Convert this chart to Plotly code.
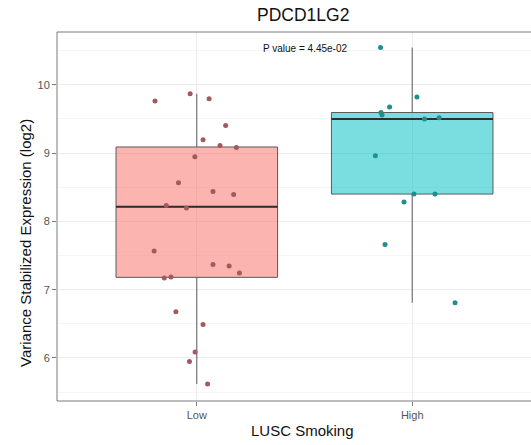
import numpy as np
import plotly.graph_objects as go

# Groups and expression values (log2, variance stabilized)
groups = ["Low", "High"]
low_values = [9.761, 9.868, 9.795, 9.404, 9.195, 9.111, 9.082, 8.946, 8.565, 8.438,
              8.394, 8.233, 8.195, 7.565, 7.369, 7.346, 7.243, 7.170, 7.184, 6.676,
              6.490, 6.086, 5.948, 5.618]
high_values = [10.546, 9.820, 9.673, 9.594, 9.556, 9.498, 9.517, 8.960, 8.400, 8.400,
               8.283, 7.662, 6.808]
# horizontal jitter of each point (in category units)
low_jitter = [-0.194, -0.031, 0.057, 0.134, 0.029, 0.108, 0.184, -0.009, -0.085, 0.075,
              0.171, -0.142, -0.048, -0.198, 0.075, 0.150, 0.198, -0.151, -0.120, -0.097,
              0.029, -0.008, -0.034, 0.050]
high_jitter = [-0.147, 0.022, -0.105, -0.145, -0.140, 0.057, 0.125, -0.171, 0.008, 0.106,
               -0.038, -0.126, 0.199]
p_value_text = "P value = 4.45e-02"
y_ticks = [6, 7, 8, 9, 10]

fills = ["rgba(248,118,109,0.55)", "rgba(0,191,196,0.52)"]
point_colors = ["#a3595d", "#1f8f8d"]
BOX_W = 0.75
BORDER = "#7a7a7a"


def box_stats(vals):
    v = np.asarray(vals)
    q1, med, q3 = np.percentile(v, [25, 50, 75])
    iqr = q3 - q1
    lo = v[v >= q1 - 1.5 * iqr].min()
    hi = v[v <= q3 + 1.5 * iqr].max()
    return q1, med, q3, lo, hi


fig = go.Figure()
for i, (name, vals, jit) in enumerate(zip(groups, [low_values, high_values],
                                          [low_jitter, high_jitter])):
    pos = i + 1
    q1, med, q3, lo, hi = box_stats(vals)
    fig.add_trace(go.Box(
        x=[pos], q1=[q1], median=[med], q3=[q3], lowerfence=[lo], upperfence=[hi],
        width=BOX_W, whiskerwidth=0, fillcolor=fills[i],
        line=dict(color="#5a5a5a", width=1), boxpoints=False, showlegend=False,
        hoverinfo="skip"))
    # thicker median bar
    fig.add_trace(go.Scatter(
        x=[pos - BOX_W / 2, pos + BOX_W / 2], y=[med, med], mode="lines",
        line=dict(color="#2e2e2e", width=2), showlegend=False, hoverinfo="skip"))
    fig.add_trace(go.Scatter(
        x=[pos + j for j in jit], y=vals, mode="markers",
        marker=dict(color=point_colors[i], size=5), showlegend=False))

W, H = 531, 445
L, R, T, B = 57, 0, 32, 44
plot_w, plot_h = W - L - R, H - T - B
PX_PER_UNIT = 215.4
X0 = 1 - (196.8 - L) / PX_PER_UNIT


def px_x(px):
    return (px - L) / plot_w


def px_y(py):
    return (H - B - py) / plot_h


axis_font = dict(family="Liberation Sans, Arial, sans-serif", size=11, color="#555555")

# panel border: left, top and bottom (the panel runs on past the right edge)
border_shapes = [
    dict(type="line", xref="paper", yref="paper", x0=0, x1=0, y0=0, y1=1),
    dict(type="line", xref="paper", yref="paper", x0=0, x1=1.02, y0=1, y1=1),
    dict(type="line", xref="paper", yref="paper", x0=0, x1=1.02, y0=0, y1=0),
]
for s in border_shapes:
    s["line"] = dict(color=BORDER, width=1)
    s["layer"] = "above"

fig.update_layout(
    width=W, height=H,
    margin=dict(l=L, r=R, t=T, b=B),
    paper_bgcolor="white", plot_bgcolor="white",
    font=dict(family="Liberation Sans, Arial, sans-serif"),
    shapes=border_shapes,
    xaxis=dict(
        range=[X0, X0 + plot_w / PX_PER_UNIT], tickvals=[1, 2], ticktext=groups,
        showgrid=True, gridcolor="#ececec", gridwidth=1, zeroline=False,
        showline=False,
        ticks="outside", ticklen=4, tickcolor=BORDER, tickfont=axis_font),
    yaxis=dict(
        range=[5.370, 10.773], tickvals=y_ticks,
        showgrid=True, gridcolor="#ececec", gridwidth=1, zeroline=False,
        showline=False,
        ticks="outside", ticklen=4, tickcolor=BORDER, tickfont=axis_font,
        minor=dict(tickvals=[t + 0.5 for t in [5] + y_ticks], showgrid=True,
                   gridcolor="#f5f5f5", gridwidth=0.6, ticks="")),
    annotations=[
        dict(text="PDCD1LG2", x=px_x(302.7), y=px_y(15), xref="paper", yref="paper",
             showarrow=False, xanchor="center", yanchor="middle",
             font=dict(size=17.5, color="#111111")),
        dict(text=p_value_text, x=1.5, y=10.526, xref="x", yref="y",
             showarrow=False, xanchor="center", yanchor="middle",
             font=dict(size=10, color="#111111")),
        dict(text="LUSC Smoking", x=px_x(302.9), y=px_y(430.8), xref="paper", yref="paper",
             showarrow=False, xanchor="center", yanchor="middle",
             font=dict(size=15, color="#111111")),
        dict(text="Variance Stabilized Expression (log2)", x=px_x(25), y=px_y(243),
             xref="paper", yref="paper", textangle=-90,
             showarrow=False, xanchor="center", yanchor="middle",
             font=dict(size=15, color="#111111")),
    ],
)

fig.write_html("out.html", config={"displayModeBar": False})
